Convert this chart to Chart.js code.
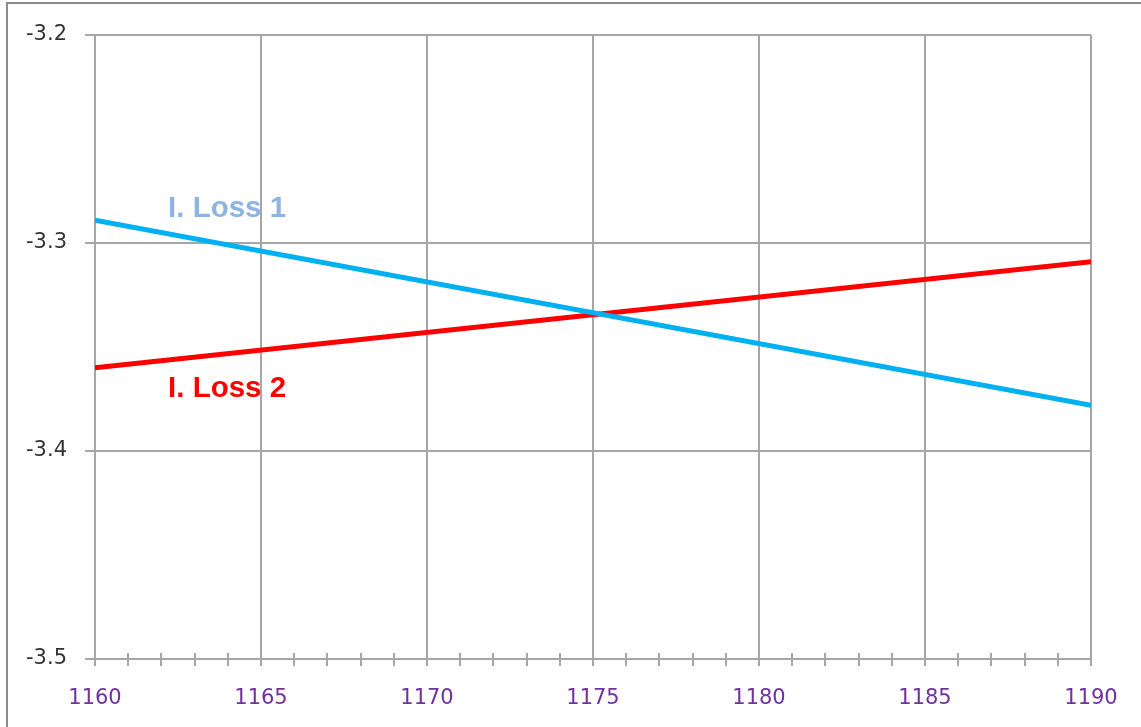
<!DOCTYPE html>
<html>
<head>
<meta charset="utf-8">
<script src="https://cdn.jsdelivr.net/npm/chart.js@4"></script>
<style>
html,body{margin:0;padding:0;background:#fff;}
#wrap{width:1141px;height:727px;position:relative;}
</style>
</head>
<body>
<div id="wrap"><canvas id="c" width="1141" height="727"></canvas></div>
<script>
const xValues = [1160, 1190];
const loss1 = [-3.289, -3.378];
const loss2 = [-3.360, -3.309];
const seriesNames = ["I. Loss 1", "I. Loss 2"];
const xTickMin = 1160, xTickMax = 1190, xMajorStep = 5, xMinorStep = 1;
const yTickMin = -3.5, yTickMax = -3.2, yStep = 0.1;

const gridColor = '#a6a6a6';

const decor = {
  id: 'decor',
  beforeDraw(chart) {
    const ctx = chart.ctx;
    ctx.save();
    ctx.strokeStyle = '#8c8c8c';
    ctx.lineWidth = 2;
    ctx.strokeRect(7, 3, 1300, 900);
    ctx.restore();
  },
  afterDatasetsDraw(chart) {
    const ctx = chart.ctx;
    const xs = chart.scales.x, ys = chart.scales.y;
    ctx.save();
    ctx.strokeStyle = gridColor;
    ctx.lineWidth = 2;
    const b = chart.chartArea.bottom;
    for (let v = xTickMin; v <= xTickMax; v += xMinorStep) {
      const px = Math.round(xs.getPixelForValue(v));
      ctx.beginPath();
      ctx.moveTo(px, b - 6);
      ctx.lineTo(px, b + 7);
      ctx.stroke();
    }
    ctx.font = 'bold 29.5px "Liberation Sans", Arial, sans-serif';
    ctx.textBaseline = 'middle';
    ctx.textAlign = 'left';
    ctx.fillStyle = '#8db4e2';
    ctx.fillText(seriesNames[0], xs.getPixelForValue(1162.2), ys.getPixelForValue(-3.2835));
    ctx.fillStyle = '#ff0000';
    ctx.fillText(seriesNames[1], xs.getPixelForValue(1162.2), ys.getPixelForValue(-3.370));
    ctx.restore();
  }
};

new Chart(document.getElementById('c'), {
  type: 'scatter',
  data: {
    datasets: [
      {
        label: seriesNames[0],
        data: xValues.map((x, i) => ({x, y: loss1[i]})),
        showLine: true,
        borderColor: '#00b0f0',
        borderWidth: 5,
        pointRadius: 0,
        pointHoverRadius: 0
      },
      {
        label: seriesNames[1],
        data: xValues.map((x, i) => ({x, y: loss2[i]})),
        showLine: true,
        borderColor: '#ff0000',
        borderWidth: 5,
        pointRadius: 0,
        pointHoverRadius: 0
      }
    ]
  },
  options: {
    responsive: false,
    animation: false,
    events: [],
    layout: { padding: { left: 0, top: 35, right: 50, bottom: 0 } },
    plugins: { legend: { display: false }, tooltip: { enabled: false } },
    scales: {
      x: {
        type: 'linear',
        min: xTickMin, max: xTickMax,
        afterFit(s) { s.height = 68; s.paddingRight = 0; s.paddingLeft = 0; },
        ticks: {
          stepSize: xMajorStep,
          color: '#7030a0',
          font: { family: '"DejaVu Sans", Tahoma, sans-serif', size: 21 },
          padding: 27,
          maxRotation: 0,
          autoSkip: false,
          callback: v => String(v)
        },
        grid: { color: gridColor, lineWidth: 2, drawTicks: false },
        border: { color: gridColor, width: 2 }
      },
      y: {
        type: 'linear',
        min: yTickMin, max: yTickMax,
        afterFit(s) { s.width = 95; },
        ticks: {
          stepSize: yStep,
          color: '#333333',
          font: { family: '"DejaVu Sans", Tahoma, sans-serif', size: 21 },
          padding: 18,
          callback: v => (Math.round(v * 10) / 10).toFixed(1)
        },
        grid: { color: gridColor, lineWidth: 2, tickLength: 10, drawTicks: true },
        border: { color: gridColor, width: 2 }
      }
    }
  },
  plugins: [decor]
});
</script>
</body>
</html>
